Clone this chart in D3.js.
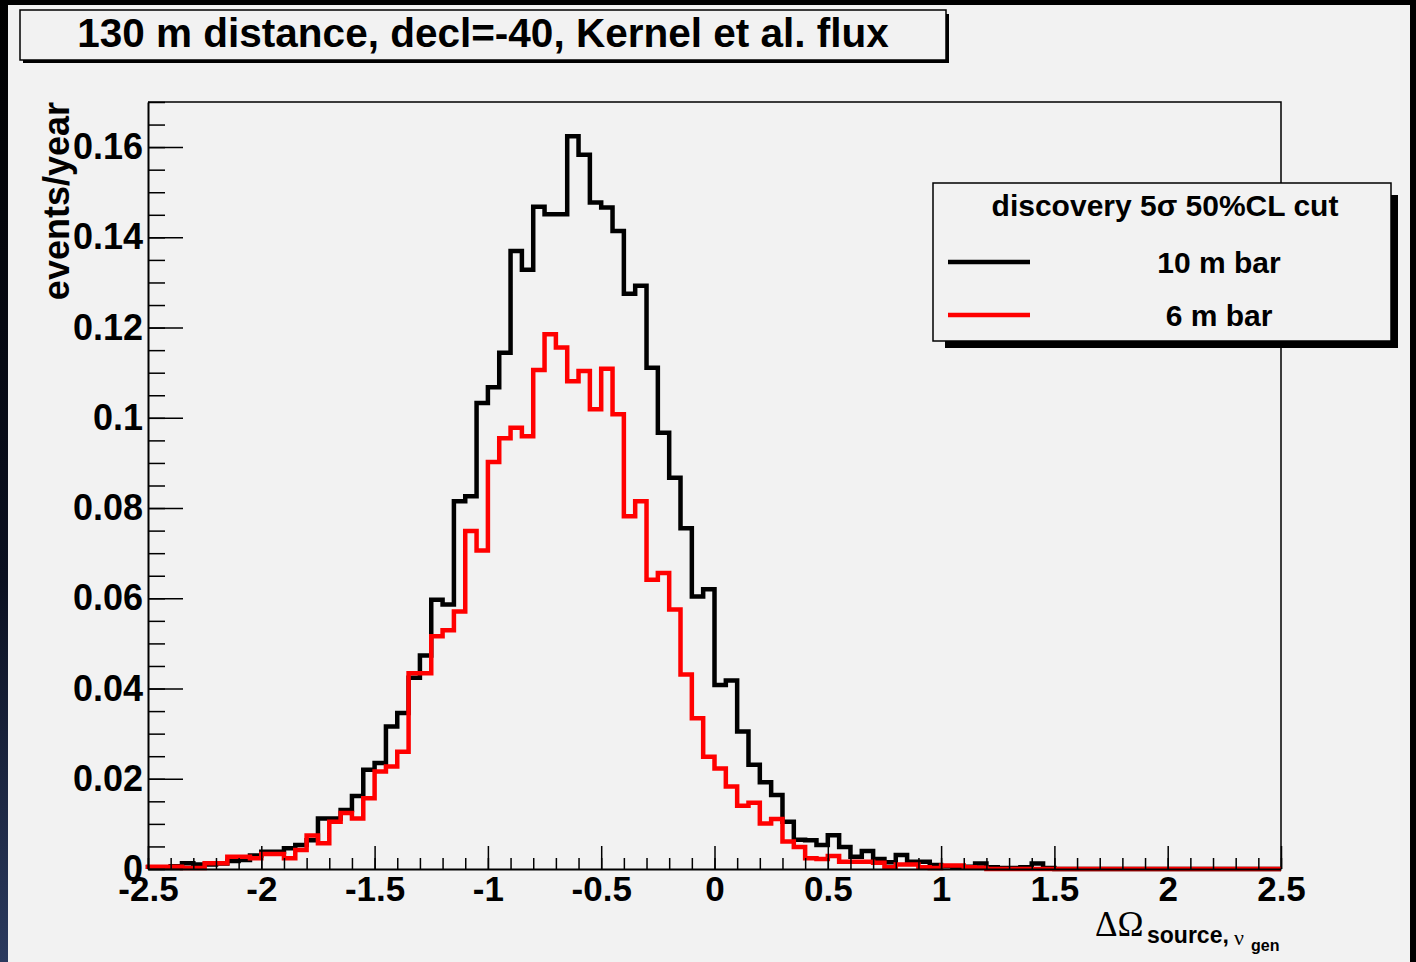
<!DOCTYPE html>
<html>
<head>
<meta charset="utf-8">
<script src="https://cdn.jsdelivr.net/npm/d3@7"></script>
<style>
  html, body { margin: 0; padding: 0; background: #000; }
  svg { display: block; }
  .tick text { font-family: "Liberation Sans", Arial, Helvetica, sans-serif; font-weight: bold; }
</style>
</head>
<body>
<svg id="chart" width="1416" height="962"></svg>
<script>
// ---- chart content ----
const titleText = "130 m distance, decl=-40, Kernel et al. flux";
const legendHeader = "discovery 5\u03c3 50%CL cut";
const seriesNames = ["10 m bar", "6 m bar"];
const seriesColors = ["#000000", "#ff0000"];
const yAxisTitle = "events/year";

// histogram binning: 100 bins of 0.05 starting at -2.5
const binStart = -2.5;
const binWidth = 0.05;

// events/year per bin, 10 m bar
const bar10m = [
  0.0004, 0.0004, 0.0006, 0.0013, 0.0010, 0.0010, 0.0012, 0.0018, 0.0020, 0.0030,
  0.0038, 0.0038, 0.0046, 0.0053, 0.0064, 0.0112, 0.0112, 0.0131, 0.0162, 0.0220,
  0.0235, 0.0316, 0.0346, 0.0424, 0.0473, 0.0597, 0.0586, 0.0815, 0.0826, 0.1033,
  0.1068, 0.1144, 0.1370, 0.1328, 0.1468, 0.1451, 0.1451, 0.1624, 0.1583, 0.1477,
  0.1466, 0.1414, 0.1275, 0.1293, 0.1111, 0.0967, 0.0867, 0.0755, 0.0604, 0.0620,
  0.0408, 0.0418, 0.0305, 0.0231, 0.0192, 0.0164, 0.0105, 0.0065, 0.0064, 0.0053,
  0.0075, 0.0049, 0.0027, 0.0040, 0.0022, 0.0015, 0.0031, 0.0016, 0.0016, 0.0009,
  0.0006, 0.0004, 0.0005, 0.0012, 0.0004, 0.0002, 0.0002, 0.0004, 0.0012, 0.0002,
  0.0000, 0.0000, 0.0000, 0.0000, 0.0000, 0.0000, 0.0000, 0.0000, 0.0000, 0.0000,
  0.0000, 0.0000, 0.0000, 0.0000, 0.0000, 0.0000, 0.0000, 0.0000, 0.0000, 0.0000
];

// events/year per bin, 6 m bar
const bar6m = [
  0.0005, 0.0005, 0.0005, 0.0002, 0.0002, 0.0013, 0.0013, 0.0027, 0.0027, 0.0024,
  0.0033, 0.0033, 0.0024, 0.0042, 0.0074, 0.0057, 0.0105, 0.0124, 0.0112, 0.0157,
  0.0216, 0.0227, 0.0260, 0.0434, 0.0434, 0.0516, 0.0529, 0.0571, 0.0749, 0.0706,
  0.0902, 0.0955, 0.0978, 0.0959, 0.1106, 0.1185, 0.1156, 0.1081, 0.1104, 0.1019,
  0.1109, 0.1008, 0.0782, 0.0815, 0.0641, 0.0656, 0.0575, 0.0431, 0.0334, 0.0249,
  0.0223, 0.0183, 0.0140, 0.0147, 0.0101, 0.0111, 0.0061, 0.0049, 0.0024, 0.0022,
  0.0029, 0.0016, 0.0016, 0.0016, 0.0014, 0.0004, 0.0010, 0.0010, 0.0004, 0.0002,
  0.0008, 0.0008, 0.0004, 0.0003, 0.0000, 0.0000, 0.0000, 0.0000, 0.0000, 0.0000,
  0.0000, 0.0000, 0.0000, 0.0000, 0.0000, 0.0000, 0.0000, 0.0000, 0.0000, 0.0000,
  0.0000, 0.0000, 0.0000, 0.0000, 0.0000, 0.0000, 0.0000, 0.0000, 0.0000, 0.0000
];

const xTickValues = [-2.5, -2, -1.5, -1, -0.5, 0, 0.5, 1, 1.5, 2, 2.5];
const xTickLabels = ["-2.5", "-2", "-1.5", "-1", "-0.5", "0", "0.5", "1", "1.5", "2", "2.5"];
const yTickValues = [0, 0.02, 0.04, 0.06, 0.08, 0.1, 0.12, 0.14, 0.16];
const yTickLabels = ["0", "0.02", "0.04", "0.06", "0.08", "0.1", "0.12", "0.14", "0.16"];

// ---- layout ----
const W = 1416, H = 962;
const plot = { left: 148, right: 1281, top: 102, bottom: 869 };
const sans = '"Liberation Sans", Arial, Helvetica, sans-serif';
const serif = '"Liberation Serif", "Times New Roman", serif';
const bg = "#f2f2f2";

const svg = d3.select("#chart");

// canvas with dark window edges
const defs = svg.append("defs");
const edgeGrad = defs.append("linearGradient").attr("id", "edge").attr("x1", 0).attr("y1", 0).attr("x2", 0).attr("y2", 1);
edgeGrad.append("stop").attr("offset", "0%").attr("stop-color", "#000");
edgeGrad.append("stop").attr("offset", "60%").attr("stop-color", "#0b1020");
edgeGrad.append("stop").attr("offset", "100%").attr("stop-color", "#2b3a5e");
svg.append("rect").attr("x", 0).attr("y", 0).attr("width", W).attr("height", H).attr("fill", "#000");
svg.append("rect").attr("x", 0).attr("y", 0).attr("width", 8).attr("height", H).attr("fill", "url(#edge)");
svg.append("rect").attr("x", 8).attr("y", 5).attr("width", 1402).attr("height", H - 5).attr("fill", bg);

// scales
const x = d3.scaleLinear().domain([-2.5, 2.5]).range([plot.left, plot.right]);
const y = d3.scaleLinear().domain([0, 0.17]).range([plot.bottom, plot.top]);

// frame (top and right sides)
svg.append("path")
  .attr("d", `M${plot.left},${plot.top}H${plot.right}V${plot.bottom}`)
  .attr("fill", "none").attr("stroke", "#000").attr("stroke-width", 1.5);

// step outline of a histogram
function stepPoints(values) {
  const pts = [[binStart, 0]];
  values.forEach((v, i) => {
    const lo = binStart + i * binWidth;
    pts.push([lo, v], [lo + binWidth, v]);
  });
  pts.push([binStart + values.length * binWidth, 0]);
  return pts;
}
const line = d3.line().x(d => x(d[0])).y(d => y(d[1]));

[bar10m, bar6m].forEach((vals, k) => {
  svg.append("path")
    .datum(stepPoints(vals))
    .attr("d", line)
    .attr("fill", "none")
    .attr("stroke", seriesColors[k])
    .attr("stroke-width", 4.5)
    .attr("stroke-linejoin", "miter");
});

// x axis: minor ticks every 0.1, major every 0.5 (ticks point into the frame)
const xMinor = d3.range(0, 51).map(i => -2.5 + i * 0.1);
svg.append("g").attr("transform", `translate(0,${plot.bottom})`)
  .call(d3.axisBottom(x).tickValues(xMinor).tickSizeInner(-11).tickSizeOuter(0).tickFormat(""))
  .call(g => g.select(".domain").remove())
  .call(g => g.selectAll("line").attr("stroke-width", 1.5));
svg.append("g").attr("transform", `translate(0,${plot.bottom})`)
  .call(d3.axisBottom(x).tickValues(xTickValues).tickSizeInner(-23).tickSizeOuter(0).tickPadding(7)
        .tickFormat((d, i) => xTickLabels[i]))
  .call(g => g.select(".domain").attr("stroke-width", 2))
  .call(g => g.selectAll("line").attr("stroke-width", 1.5))
  .call(g => g.selectAll("text").attr("fill", "#000").style("font-size", "35px"));

// y axis: minor ticks every 0.005, major every 0.02
const yMinor = d3.range(0, 35).map(i => i * 0.005);
svg.append("g").attr("transform", `translate(${plot.left},0)`)
  .call(d3.axisLeft(y).tickValues(yMinor).tickSizeInner(-17).tickSizeOuter(0).tickFormat(""))
  .call(g => g.select(".domain").remove())
  .call(g => g.selectAll("line").attr("stroke-width", 1.5));
svg.append("g").attr("transform", `translate(${plot.left},0)`)
  .call(d3.axisLeft(y).tickValues(yTickValues).tickSizeInner(-35).tickSizeOuter(0).tickPadding(5)
        .tickFormat((d, i) => yTickLabels[i]))
  .call(g => g.select(".domain").attr("stroke-width", 2))
  .call(g => g.selectAll("line").attr("stroke-width", 1.5))
  .call(g => g.selectAll("text").attr("fill", "#000").style("font-size", "36px"));

// axis titles
svg.append("text")
  .attr("transform", `translate(69,${plot.top}) rotate(-90)`)
  .attr("text-anchor", "end")
  .style("font-family", sans).style("font-weight", "bold").style("font-size", "36px")
  .text(yAxisTitle);

const xTitle = svg.append("g");
xTitle.append("text").attr("x", 1095).attr("y", 936)
  .style("font-family", serif).style("font-size", "35px").text("\u0394\u03a9");
xTitle.append("text").attr("x", 1147).attr("y", 943)
  .style("font-family", sans).style("font-weight", "bold").style("font-size", "23px").text("source,");
xTitle.append("text").attr("x", 1234).attr("y", 945)
  .style("font-family", serif).style("font-size", "22px").text("\u03bd");
xTitle.append("text").attr("x", 1251).attr("y", 951)
  .style("font-family", sans).style("font-weight", "bold").style("font-size", "16px").text("gen");

// title box with shadow
svg.append("rect").attr("x", 23).attr("y", 14).attr("width", 926).attr("height", 49).attr("fill", "#000");
svg.append("rect").attr("x", 20).attr("y", 10).attr("width", 926).attr("height", 50)
  .attr("fill", bg).attr("stroke", "#000").attr("stroke-width", 1.5);
svg.append("text").attr("x", 483).attr("y", 47).attr("text-anchor", "middle")
  .style("font-family", sans).style("font-weight", "bold").style("font-size", "40.5px")
  .text(titleText);

// legend box with shadow
const lg = { x: 933, y: 183, w: 458, h: 158 };
svg.append("rect").attr("x", lg.x + 12).attr("y", lg.y + 12).attr("width", lg.w - 5).attr("height", lg.h - 5).attr("fill", "#000");
svg.append("rect").attr("x", lg.x).attr("y", lg.y).attr("width", lg.w).attr("height", lg.h)
  .attr("fill", bg).attr("stroke", "#000").attr("stroke-width", 1.5);
svg.append("text").attr("x", 1165).attr("y", 216).attr("text-anchor", "middle")
  .style("font-family", sans).style("font-weight", "bold").style("font-size", "30px")
  .text(legendHeader);
const entryY = [262, 315];
seriesNames.forEach((name, k) => {
  svg.append("line").attr("x1", 948).attr("x2", 1030).attr("y1", entryY[k]).attr("y2", entryY[k])
    .attr("stroke", seriesColors[k]).attr("stroke-width", 4.5);
  svg.append("text").attr("x", 1219).attr("y", entryY[k] + 11).attr("text-anchor", "middle")
    .style("font-family", sans).style("font-weight", "bold").style("font-size", "30px")
    .text(name);
});
</script>
</body>
</html>
